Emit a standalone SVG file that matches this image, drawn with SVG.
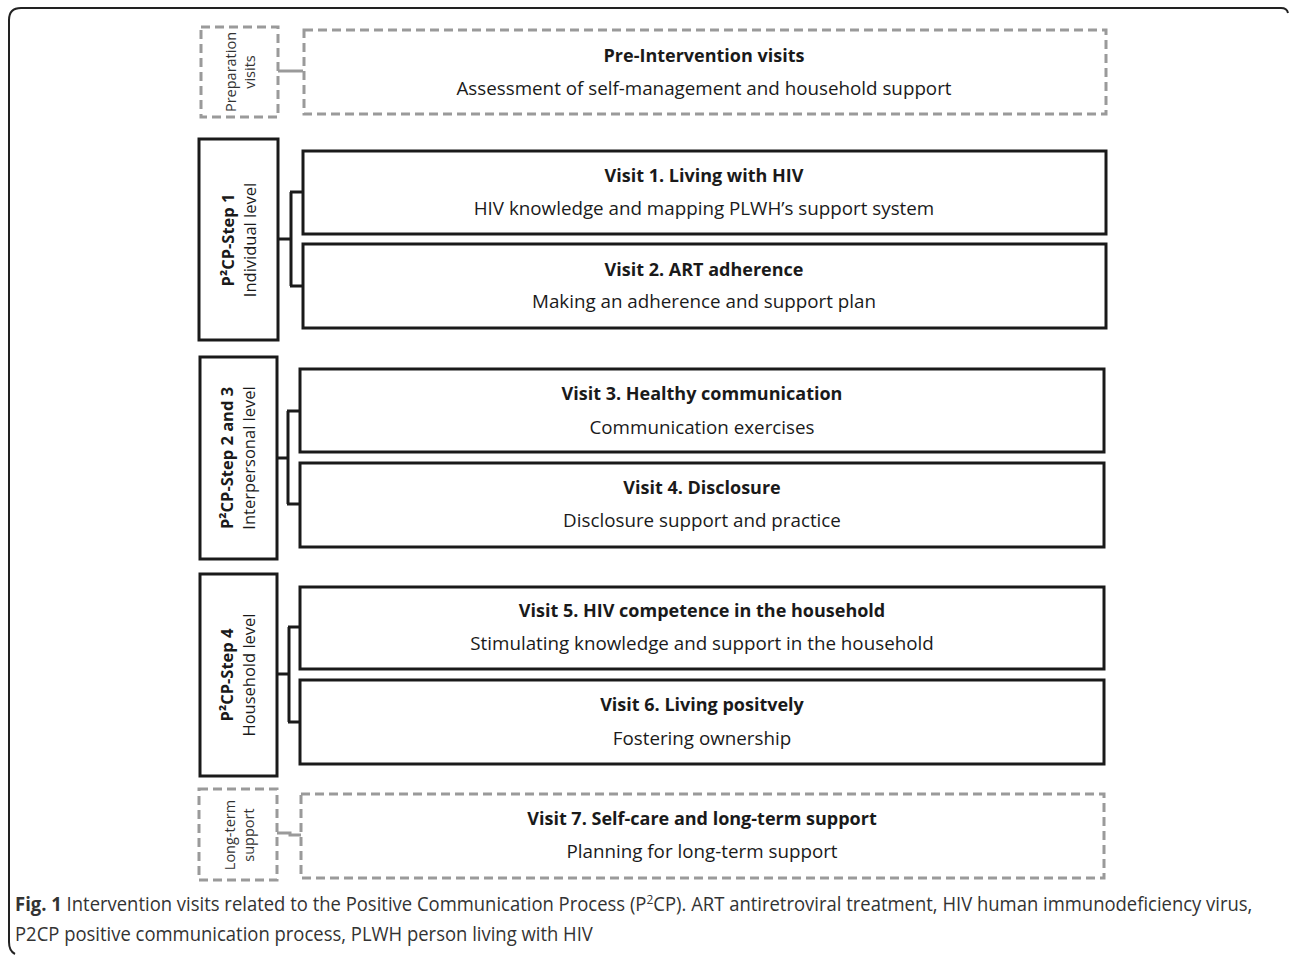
<svg xmlns="http://www.w3.org/2000/svg" width="1290" height="956" viewBox="0 0 1290 956">
<style>
.frame{fill:none;stroke:#222;stroke-width:2}
.solid{fill:#fff;stroke:#1a1a1a;stroke-width:3}
.dash{fill:#fff;stroke:#9a9a9a;stroke-width:3;stroke-dasharray:9,5}
.conn{fill:none;stroke:#1a1a1a;stroke-width:3}
.gconn{fill:none;stroke:#9a9a9a;stroke-width:3}
.t{font-family:"Open Sans","DejaVu Sans",sans-serif;font-size:18.8px;fill:#1a1a1a;text-anchor:middle}
.b{font-weight:bold;font-size:18px}
.s{font-family:"Open Sans","DejaVu Sans",sans-serif;font-size:16.5px;fill:#1a1a1a;text-anchor:middle}
.p{font-family:"Open Sans","DejaVu Sans",sans-serif;font-size:14.5px;fill:#333;text-anchor:middle}
.cap{font-family:"Open Sans","Liberation Sans",sans-serif;font-size:20px;fill:#333}
</style>
<path class="frame" d="M1288,13 Q1287,8 1281,8 L21,8 Q9,8 9,20 L9,942 Q9,951 15,954"/>
<g id="connectors">
<path class="gconn" d="M278,71 L303,71"/>
<path class="conn" d="M278,239 L291,239 M291,192 L291,286 M290,192 L303,192 M290,286 L303,286"/>
<path class="conn" d="M277,458 L288,458 M288,411 L288,504 M287,411 L300,411 M287,504 L300,504"/>
<path class="conn" d="M277,674 L289,674 M289,627 L289,722 M288,627 L300,627 M288,722 L300,722"/>
<path class="gconn" d="M277,833 L290,833 L290,835 L301,835"/>
</g>
<g id="prep">
<rect class="dash" x="201" y="27" width="77" height="90"/>
<text class="p" transform="translate(236,72) rotate(-90)">Preparation</text>
<text class="p" transform="translate(255,72) rotate(-90)">visits</text>
</g>
<g id="preint">
<rect class="dash" x="304" y="30" width="802" height="84"/>
<text class="t b" x="704" y="62">Pre-Intervention visits</text>
<text class="t" x="704" y="95">Assessment of self-management and household support</text>
</g>
<g id="step1">
<rect class="solid" x="199" y="139" width="79" height="201"/>
<text class="s b" transform="translate(234,240) rotate(-90)">P²CP-Step 1</text>
<text class="s" transform="translate(256,240) rotate(-90)">Individual level</text>
</g>
<g id="visit1">
<rect class="solid" x="303" y="151" width="803" height="83"/>
<text class="t b" x="704" y="182">Visit 1. Living with HIV</text>
<text class="t" x="704" y="215">HIV knowledge and mapping PLWH’s support system</text>
</g>
<g id="visit2">
<rect class="solid" x="303" y="244" width="803" height="84"/>
<text class="t b" x="704" y="276">Visit 2. ART adherence</text>
<text class="t" x="704" y="308">Making an adherence and support plan</text>
</g>
<g id="step23">
<rect class="solid" x="200" y="357" width="77" height="202"/>
<text class="s b" transform="translate(233,458) rotate(-90)">P²CP-Step 2 and 3</text>
<text class="s" transform="translate(255,458) rotate(-90)">Interpersonal level</text>
</g>
<g id="visit3">
<rect class="solid" x="300" y="369" width="804" height="83"/>
<text class="t b" x="702" y="400">Visit 3. Healthy communication</text>
<text class="t" x="702" y="434">Communication exercises</text>
</g>
<g id="visit4">
<rect class="solid" x="300" y="463" width="804" height="84"/>
<text class="t b" x="702" y="494">Visit 4. Disclosure</text>
<text class="t" x="702" y="527">Disclosure support and practice</text>
</g>
<g id="step4">
<rect class="solid" x="200" y="574" width="77" height="202"/>
<text class="s b" transform="translate(233,675) rotate(-90)">P²CP-Step 4</text>
<text class="s" transform="translate(255,675) rotate(-90)">Household level</text>
</g>
<g id="visit5">
<rect class="solid" x="300" y="587" width="804" height="82"/>
<text class="t b" x="702" y="617">Visit 5. HIV competence in the household</text>
<text class="t" x="702" y="650">Stimulating knowledge and support in the household</text>
</g>
<g id="visit6">
<rect class="solid" x="300" y="680" width="804" height="84"/>
<text class="t b" x="702" y="711">Visit 6. Living positvely</text>
<text class="t" x="702" y="745">Fostering ownership</text>
</g>
<g id="longterm">
<rect class="dash" x="199" y="789" width="78" height="91"/>
<text class="p" transform="translate(235,835) rotate(-90)">Long-term</text>
<text class="p" transform="translate(254,835) rotate(-90)">support</text>
</g>
<g id="visit7">
<rect class="dash" x="301" y="794" width="803" height="84"/>
<text class="t b" x="702" y="825">Visit 7. Self-care and long-term support</text>
<text class="t" x="702" y="858">Planning for long-term support</text>
</g>
<g id="caption">
<text class="cap" transform="translate(15,911) scale(0.923,1)"><tspan font-weight="bold">Fig. 1</tspan> Intervention visits related to the Positive Communication Process (P<tspan font-size="13" dy="-7">2</tspan><tspan dy="7">CP). ART antiretroviral treatment, HIV human immunodeficiency virus,</tspan></text>
<text class="cap" transform="translate(15,941) scale(0.923,1)">P2CP positive communication process, PLWH person living with HIV</text>
</g>
</svg>
